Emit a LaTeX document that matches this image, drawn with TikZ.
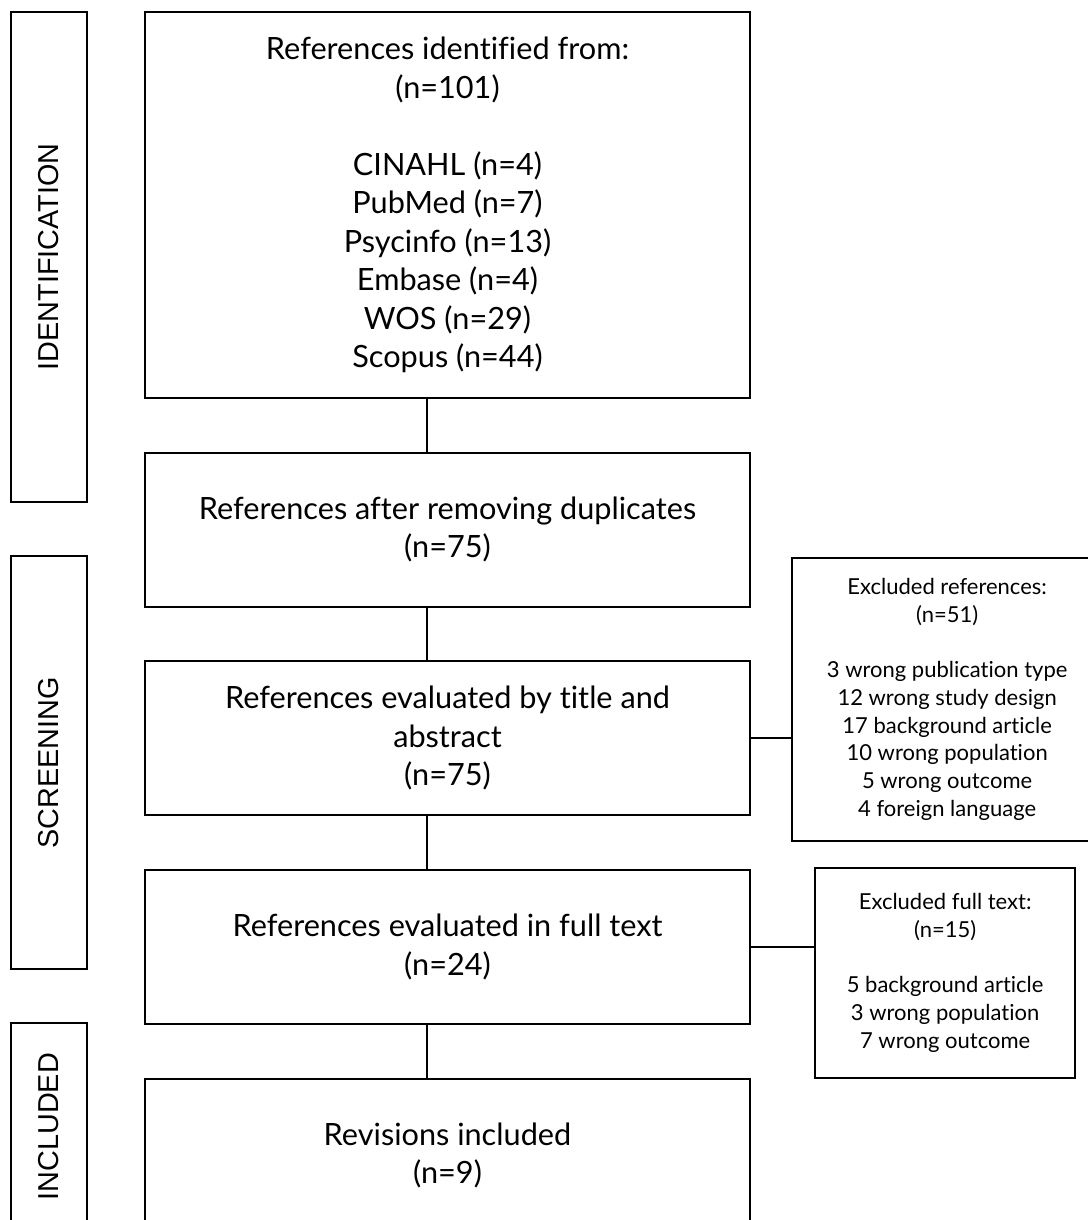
\documentclass[tikz,border=0pt]{standalone}
\usepackage{fontspec}
\setmainfont{Lato}[Ligatures={NoCommon}]
\newfontfamily\phasefont{Liberation Sans}
\usepackage{tikz}
\usetikzlibrary{positioning, calc}

\begin{document}
\begin{tikzpicture}[x=0.75pt, y=-0.75pt, line width=1.6pt]
      \tikzstyle{stage} = [rectangle, draw=black, fill=white, align=center, minimum width=453.75pt, minimum height=115.5pt, inner sep=0pt, font=\fontsize{23}{28.9}\selectfont]
      \tikzstyle{phase} = [rectangle, draw=black, minimum width=57pt, inner sep=0pt, font=\phasefont\fontsize{21.6}{25}\selectfont]
      \tikzstyle{excl} = [rectangle, draw=black, fill=white, align=center, inner sep=0pt, font=\fontsize{16.5}{20.8}\selectfont]

      \clip (0,0) rectangle (1088,1220);

      % Main flow
      \node (ident) [stage, minimum height=289.5pt] at (447.5,205) {References identified from:\\(n=101)\\[28.9pt]CINAHL (n=4)\\PubMed (n=7)\\Psycinfo (n=13)\\Embase (n=4)\\WOS (n=29)\\Scopus (n=44)};
      \node (dedup) [stage, below=39.4pt of ident] {References after removing duplicates\\(n=75)};
      \node (title) [stage, below=39.4pt of dedup] {References evaluated by title and\\abstract\\(n=75)};
      \node (full) [stage, below=39.4pt of title] {References evaluated in full text\\(n=24)};
      \node (incl) [stage, below=39.4pt of full] {Revisions included\\(n=9)};

      % Phases
      \node (pid) [phase, minimum height=367.5pt, anchor=north east] at ([xshift=-42pt]ident.north west) {\rotatebox{90}{IDENTIFICATION}};
      \node (pscr) [phase, minimum height=309.75pt, below=39pt of pid] {\rotatebox{90}{SCREENING}};
      \node (pinc) [phase, minimum height=155.25pt, below=39pt of pscr] {\rotatebox{90}{INCLUDED}};

      % Exclusions
      \node (exref) [excl, minimum width=232.5pt, minimum height=212.25pt, right=30pt of title, yshift=29.25pt] {Excluded references:\\(n=51)\\[20.8pt]3 wrong publication type\\12 wrong study design\\17 background article\\10 wrong population\\5 wrong outcome\\4 foreign language};
      \node (exfull) [excl, minimum width=195pt, minimum height=157.5pt, right=47.25pt of full, yshift=-19.5pt] {Excluded full text:\\(n=15)\\[20.8pt]5 background article\\3 wrong population\\7 wrong outcome};

      % Connections
      \draw ([xshift=-15.4pt]ident.south) -- ([xshift=-15.4pt]dedup.north);
      \draw ([xshift=-15.4pt]dedup.south) -- ([xshift=-15.4pt]title.north);
      \draw ([xshift=-15.4pt]title.south) -- ([xshift=-15.4pt]full.north);
      \draw ([xshift=-15.4pt]full.south) -- ([xshift=-15.4pt]incl.north);
      \draw (title.east) -- (title.east -| exref.west);
      \draw (full.east) -- (full.east -| exfull.west);
\end{tikzpicture}
\end{document}
